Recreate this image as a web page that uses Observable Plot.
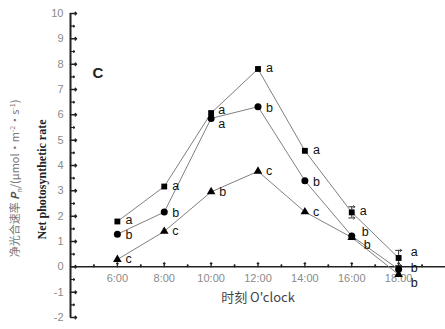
<!DOCTYPE html>
<html>
<head>
<meta charset="utf-8">
<script src="https://cdn.jsdelivr.net/npm/d3@7"></script>
<script src="https://cdn.jsdelivr.net/npm/@observablehq/plot@0.6"></script>
<style>
  html, body { margin: 0; padding: 0; background: #fff; }
  #chart svg { display: block; }
</style>
</head>
<body>
<div id="chart"></div>
<script>
// ---- data ----
const hours = [6, 8, 10, 12, 14, 16, 18];
const seriesA = [1.79, 3.17, 6.07, 7.81, 4.58, 2.15, 0.35];   // squares
const seriesB = [1.29, 2.16, 5.86, 6.32, 3.40, 1.22, -0.10];  // circles
const seriesC = [0.29, 1.40, 2.96, 3.77, 2.17, 1.16, -0.30];  // triangles
const errA = [0, 0, 0, 0, 0, 0.22, 0.30];
const lettersA = ["a", "a", "a", "a", "a", "a", "a"];
const lettersB = ["b", "b", "a", "b", "b", "b", "b"];
const lettersC = ["c", "c", "b", "c", "c", "b", "b"];
const xTickHours = [6, 8, 10, 12, 14, 16, 18];
const xTickLabels = ["6:00", "8:00", "10:00", "12:00", "14:00", "16:00", "18:00"];
const xMinorHours = [5, 7, 9, 11, 13, 15, 17, 19];
const yTicks = [-2, -1, 0, 1, 2, 3, 4, 5, 6, 7, 8, 9, 10];
const yMinor = [-1.5, -0.5, 0.5, 1.5, 2.5, 3.5, 4.5, 5.5, 6.5, 7.5, 8.5, 9.5];
const xDomain = [4, 20];
const yDomain = [-2, 10];
const panelLabel = "C";
const xTitle = "时刻 O'clock";
const yTitleCn = "净光合速率 Pn/(μmol·m-2·s-1)";
const yTitleEn = "Net photosynthetic rate";

const mk = (vals, letters) => hours.map((h, i) => ({h, v: vals[i], t: letters[i], e: errA[i] || 0}));
const A = mk(seriesA, lettersA);
const B = mk(seriesB, lettersB);
const C = mk(seriesC, lettersC);
const Aerr = A.filter(d => d.e > 0);

const FONT = "'Liberation Sans', Arial, sans-serif";
const lineStyle = {x: "h", y: "v", stroke: "#808080", strokeWidth: 1};
const lbl = {x: "h", y: "v", text: "t", fill: "#111", fontSize: 12.5, textAnchor: "start", fontFamily: FONT};

const chart = Plot.plot({
  width: 445,
  height: 329,
  marginLeft: 70,
  marginRight: 0,
  marginTop: 13,
  marginBottom: 12,
  style: {fontFamily: FONT, background: "#fff"},
  x: {domain: xDomain, axis: null},
  y: {domain: yDomain, axis: null},
  marks: [
    // axes lines
    Plot.ruleY([0], {stroke: "#222", strokeWidth: 1.5}),
    Plot.ruleX([xDomain[0]], {stroke: "#222", strokeWidth: 2}),
    // y ticks (inward)
    Plot.vector(yTicks, {x: xDomain[0], y: d => d, rotate: 90, length: 6, anchor: "start", stroke: "#222", strokeWidth: 1.5}),
    Plot.vector(yMinor, {x: xDomain[0], y: d => d, rotate: 90, length: 4, anchor: "start", stroke: "#222", strokeWidth: 1.2}),
    Plot.text(yTicks, {x: xDomain[0], y: d => d, text: d => String(d), dx: -7, textAnchor: "end", fill: "#8a8a8a", fontSize: 11}),
    // x ticks (upward)
    Plot.vector(xTickHours, {x: d => d, y: 0, length: 4, anchor: "start", stroke: "#222", strokeWidth: 1.3}),
    Plot.vector(xMinorHours, {x: d => d, y: 0, length: 2, anchor: "start", stroke: "#222", strokeWidth: 1.3}),
    Plot.text(xTickLabels, {x: (d, i) => xTickHours[i], y: 0, text: d => d, dy: 12, fill: "#8a8a8a", fontSize: 11}),
    // titles
    Plot.text([xTitle], {frameAnchor: "bottom", text: d => d, dy: -16, fill: "#444", fontSize: 13, fontFamily: "'Noto Sans CJK SC', " + FONT}),
    Plot.text([yTitleCn], {frameAnchor: "left", textAnchor: "middle", text: d => d, rotate: -90, dx: -55, dy: 13, fill: "#777", fontSize: 11, fontFamily: "'Noto Sans CJK SC', " + FONT}),
    Plot.text([yTitleEn], {frameAnchor: "left", textAnchor: "middle", text: d => d, rotate: -90, dx: -28, dy: 14, fill: "#222", fontSize: 12, fontWeight: "bold", fontFamily: "'Liberation Serif', 'Times New Roman', serif"}),
    Plot.text([panelLabel], {frameAnchor: "top-left", text: d => d, dx: 22, dy: 54, fill: "#222", fontSize: 15, fontWeight: "bold"}),
    // lines
    Plot.line(A, lineStyle),
    Plot.line(B, lineStyle),
    Plot.line(C, lineStyle),
    // error bars
    Plot.ruleX(Aerr, {x: "h", y1: d => d.v - d.e, y2: d => d.v + d.e, stroke: "#333", strokeWidth: 1}),
    Plot.vector(Aerr, {x: "h", y: d => d.v - d.e, rotate: 90, length: 6, anchor: "middle", stroke: "#333", strokeWidth: 1}),
    Plot.vector(Aerr, {x: "h", y: d => d.v + d.e, rotate: 90, length: 6, anchor: "middle", stroke: "#333", strokeWidth: 1}),
    // markers
    Plot.dot(A, {x: "h", y: "v", symbol: "square", r: 3.3, fill: "#000", stroke: "none"}),
    Plot.dot(B, {x: "h", y: "v", symbol: "circle", r: 3.5, fill: "#000", stroke: "none"}),
    Plot.dot(C, {x: "h", y: "v", symbol: "triangle", r: 3.2, fill: "#000", stroke: "none"}),
    // significance letters
    Plot.text(A, {...lbl, filter: d => d.h !== 10 && d.h < 18, dx: 8, dy: -1}),
    Plot.text(A, {...lbl, filter: d => d.h === 10, dx: 7, dy: -3}),
    Plot.text(A, {...lbl, filter: d => d.h === 18, dx: 12, dy: -6}),
    Plot.text(B, {...lbl, filter: d => d.h !== 10 && d.h < 16, dx: 8, dy: 1}),
    Plot.text(B, {...lbl, filter: d => d.h === 10, dx: 7, dy: 6}),
    Plot.text(B, {...lbl, filter: d => d.h === 16, dx: 10, dy: -4}),
    Plot.text(B, {...lbl, filter: d => d.h === 18, dx: 12, dy: -1}),
    Plot.text(C, {...lbl, filter: d => d.h < 16, dx: 8, dy: 0}),
    Plot.text(C, {...lbl, filter: d => d.h === 16, dx: 12, dy: 8}),
    Plot.text(C, {...lbl, filter: d => d.h === 18, dx: 12, dy: 9})
  ]
});

// rich formatting for the Chinese y title (italic P with subscript, superscripts)
d3.select(chart).selectAll("text").filter(function() { return this.textContent === yTitleCn; }).each(function() {
  const t = d3.select(this);
  t.text("");
  t.append("tspan").text("净光合速率 ");
  t.append("tspan").text("P").attr("font-style", "italic").attr("font-weight", "bold").attr("fill", "#555");
  t.append("tspan").text("n").attr("font-size", 7).attr("dy", 3);
  t.append("tspan").text("/(μmol·m").attr("dy", -3);
  t.append("tspan").text("-2").attr("font-size", 7).attr("dy", -4);
  t.append("tspan").text("·s").attr("dy", 4);
  t.append("tspan").text("-1").attr("font-size", 7).attr("dy", -4);
  t.append("tspan").text(")").attr("dy", 4);
});

document.getElementById("chart").appendChild(chart);
</script>
</body>
</html>
